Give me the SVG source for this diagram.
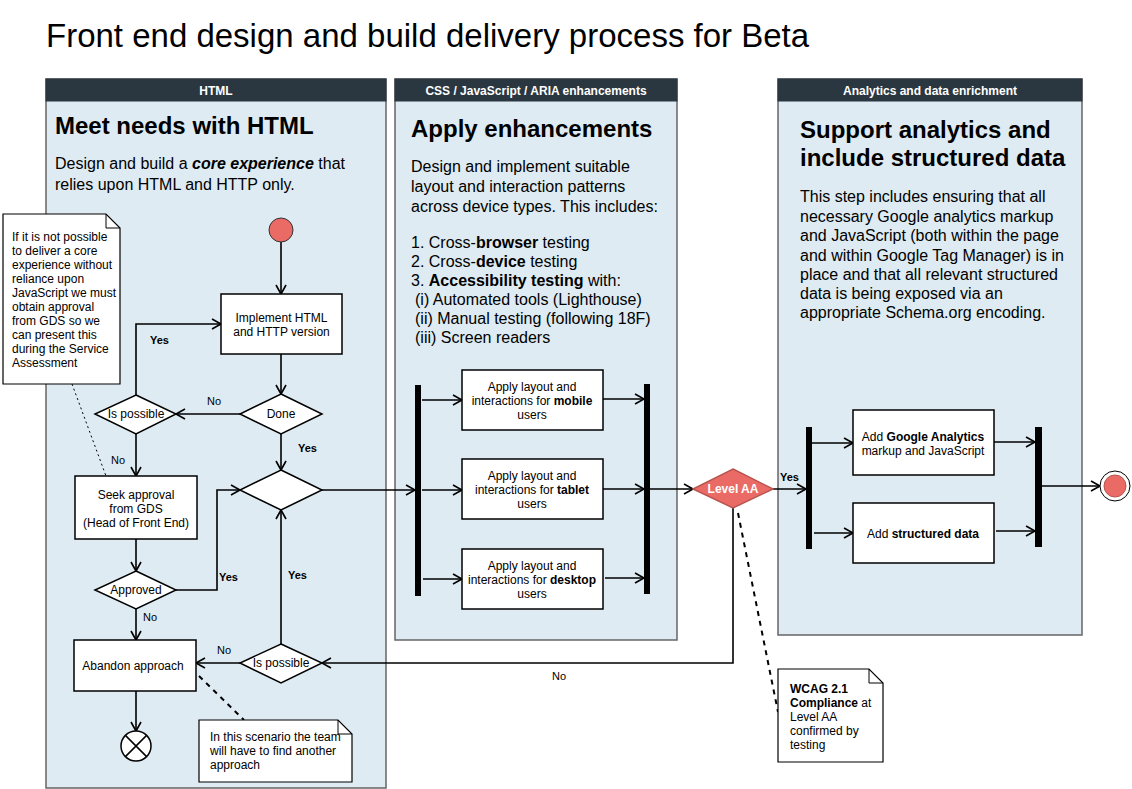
<svg xmlns="http://www.w3.org/2000/svg" width="1132" height="789" viewBox="0 0 1132 789">
<defs>
<marker id="arr" viewBox="0 0 12 12" refX="10" refY="6" markerWidth="12" markerHeight="12" markerUnits="userSpaceOnUse" orient="auto">
<path d="M1,1 L10,6 L1,11" fill="none" stroke="#000" stroke-width="1.6"/>
</marker>
<style>
text{font-family:"Liberation Sans",Arial,sans-serif;fill:#000}
.panel{fill:#deebf2;stroke:#666;stroke-width:1.5}
.hdr{fill:#2b3740;stroke:#2b3740}
.hdrt{fill:#fff;font-size:12px;font-weight:bold;text-anchor:middle}
.h1{font-size:24px;font-weight:bold}
.body{font-size:16px}
.box{fill:#fff;stroke:#000;stroke-width:1.5}
.dia{fill:#fff;stroke:#000;stroke-width:1.5}
.nt{font-size:12px;text-anchor:middle}
.note{fill:#fff;stroke:#000;stroke-width:1.2}
.ntx{font-size:12px}
.bar{fill:#000}
.c{fill:none;stroke:#000;stroke-width:1.6}
.a{marker-end:url(#arr)}
.lbl{font-size:11px;font-weight:bold}
.lbln{font-size:11px}
</style>
</defs>
<rect x="0" y="0" width="1132" height="789" fill="#fff"/>
<text x="46" y="47" style="font-size:33px">Front end design and build delivery process for Beta</text>

<g id="panel-html">
<rect class="panel" x="46" y="79" width="340" height="709"/>
<rect class="hdr" x="46" y="79" width="340" height="22"/>
<text class="hdrt" x="216" y="94.5">HTML</text>
<text class="h1" x="55" y="134">Meet needs with HTML</text>
<text class="body" x="55" y="169">Design and build a <tspan font-weight="bold" font-style="italic">core experience</tspan> that</text>
<text class="body" x="55" y="190">relies upon HTML and HTTP only.</text>
</g>

<g id="panel-css">
<rect class="panel" x="395" y="79" width="282" height="561"/>
<rect class="hdr" x="395" y="79" width="282" height="22"/>
<text class="hdrt" x="536" y="94.5">CSS / JavaScript / ARIA enhancements</text>
<text class="h1" x="411" y="137">Apply enhancements</text>
<text class="body" x="411" y="172">Design and implement suitable</text>
<text class="body" x="411" y="192">layout and interaction patterns</text>
<text class="body" x="411" y="212">across device types. This includes:</text>
<text class="body" x="411" y="248">1. Cross-<tspan font-weight="bold">browser</tspan> testing</text>
<text class="body" x="411" y="267">2. Cross-<tspan font-weight="bold">device</tspan> testing</text>
<text class="body" x="411" y="286">3. <tspan font-weight="bold">Accessibility testing</tspan> with:</text>
<text class="body" x="415" y="305">(i) Automated tools (Lighthouse)</text>
<text class="body" x="415" y="324">(ii) Manual testing (following 18F)</text>
<text class="body" x="415" y="343">(iii) Screen readers</text>
</g>

<g id="panel-analytics">
<rect class="panel" x="778" y="79" width="304" height="556"/>
<rect class="hdr" x="778" y="79" width="304" height="22"/>
<text class="hdrt" x="930" y="94.5">Analytics and data enrichment</text>
<text class="h1" x="800" y="138">Support analytics and</text>
<text class="h1" x="800" y="166">include structured data</text>
<text class="body" x="800" y="202">This step includes ensuring that all</text>
<text class="body" x="800" y="222">necessary Google analytics markup</text>
<text class="body" x="800" y="241">and JavaScript (both within the page</text>
<text class="body" x="800" y="261">and within Google Tag Manager) is in</text>
<text class="body" x="800" y="280">place and that all relevant structured</text>
<text class="body" x="800" y="299">data is being exposed via an</text>
<text class="body" x="800" y="318">appropriate Schema.org encoding.</text>
</g>

<g id="connectors">
<line class="c a" x1="281" y1="242" x2="281" y2="294"/>
<line class="c a" x1="281" y1="354" x2="281" y2="394"/>
<line class="c a" x1="240" y1="414" x2="176" y2="414"/>
<polyline class="c a" points="136,395 136,324 221,324"/>
<line class="c a" x1="136" y1="434" x2="136" y2="476"/>
<line class="c a" x1="281" y1="434" x2="281" y2="470"/>
<line class="c a" x1="136" y1="539" x2="136" y2="571"/>
<polyline class="c a" points="176,590 217,590 217,490 240,490"/>
<line class="c a" x1="136" y1="609" x2="136" y2="640"/>
<line class="c a" x1="136" y1="691" x2="136" y2="731"/>
<line class="c a" x1="240" y1="663" x2="196" y2="663"/>
<line class="c a" x1="281" y1="644" x2="281" y2="510"/>
<line class="c a" x1="322" y1="490" x2="415" y2="490"/>
<line class="c a" x1="422" y1="400" x2="462" y2="400"/>
<line class="c a" x1="422" y1="490" x2="462" y2="490"/>
<line class="c a" x1="423" y1="579" x2="462" y2="579"/>
<line class="c a" x1="603" y1="399" x2="644" y2="399"/>
<line class="c a" x1="603" y1="489" x2="644" y2="489"/>
<line class="c a" x1="605" y1="578" x2="644" y2="578"/>
<line class="c a" x1="650" y1="489" x2="693" y2="489"/>
<line class="c a" x1="773" y1="489" x2="806" y2="489"/>
<polyline class="c a" points="733,508 733,663 322,663"/>
<line class="c a" x1="812" y1="443" x2="853" y2="443"/>
<line class="c a" x1="814" y1="533" x2="853" y2="533"/>
<line class="c a" x1="994" y1="442" x2="1035" y2="442"/>
<line class="c a" x1="996" y1="531" x2="1035" y2="531"/>
<line class="c a" x1="1042" y1="486" x2="1100" y2="486"/>
<line x1="72" y1="384" x2="106" y2="476" stroke="#000" stroke-width="1" stroke-dasharray="2,3"/>
<line x1="199" y1="676" x2="244" y2="720" stroke="#000" stroke-width="2" stroke-dasharray="5,5"/>
<line x1="738" y1="513" x2="778" y2="712" stroke="#000" stroke-width="2" stroke-dasharray="5,5"/>
<text class="lbl" x="150" y="344">Yes</text>
<text class="lbln" x="207" y="405">No</text>
<text class="lbln" x="111" y="464">No</text>
<text class="lbl" x="298" y="452">Yes</text>
<text class="lbl" x="219" y="581">Yes</text>
<text class="lbln" x="143" y="621">No</text>
<text class="lbln" x="217" y="654">No</text>
<text class="lbl" x="288" y="579">Yes</text>
<text class="lbl" x="780" y="481">Yes</text>
<text class="lbln" x="552" y="680">No</text>
</g>

<g id="start"><circle cx="281" cy="230" r="12" fill="#ea6b66" stroke="#333" stroke-width="1"/></g>
<g id="implement"><rect class="box" x="221" y="294" width="121" height="60"/>
<text class="nt" x="281.5" y="322">Implement HTML</text><text class="nt" x="281.5" y="336">and HTTP version</text></g>
<g id="done"><polygon class="dia" points="281,394 322,414 281,434 240,414"/><text class="nt" x="281" y="418">Done</text></g>
<g id="ispossible1"><polygon class="dia" points="136,395 176,414 136,434 95,414"/><text class="nt" x="136" y="418">Is possible</text></g>
<g id="seek"><rect class="box" x="75" y="476" width="122" height="63"/>
<text class="nt" x="136" y="499">Seek approval</text><text class="nt" x="136" y="513">from GDS</text><text class="nt" x="136" y="527">(Head of Front End)</text></g>
<g id="merge"><polygon class="dia" points="281,470 322,490 281,510 240,490"/></g>
<g id="approved"><polygon class="dia" points="136,571 176,590 136,609 95,590"/><text class="nt" x="136" y="594">Approved</text></g>
<g id="abandon"><rect class="box" x="74" y="640" width="122" height="51"/><text class="nt" x="133" y="670">Abandon approach</text></g>
<g id="ispossible2"><polygon class="dia" points="281,644 322,663 281,683 240,663"/><text class="nt" x="281" y="667">Is possible</text></g>
<g id="end-x"><circle cx="136" cy="746" r="15" fill="#fff" stroke="#000" stroke-width="1.5"/>
<path d="M125.4,735.4 L146.6,756.6 M146.6,735.4 L125.4,756.6" stroke="#000" stroke-width="1.5"/></g>
<g id="note1"><path class="note" d="M3,214 H106 L120,228 V384 H3 Z"/><path d="M106,214 V228 H120" fill="none" stroke="#000" stroke-width="1"/>
<text class="ntx" x="12" y="241">If it is not possible</text>
<text class="ntx" x="12" y="255">to deliver a core</text>
<text class="ntx" x="12" y="269">experience without</text>
<text class="ntx" x="12" y="283">reliance upon</text>
<text class="ntx" x="12" y="297">JavaScript we must</text>
<text class="ntx" x="12" y="311">obtain approval</text>
<text class="ntx" x="12" y="325">from GDS so we</text>
<text class="ntx" x="12" y="339">can present this</text>
<text class="ntx" x="12" y="353">during the Service</text>
<text class="ntx" x="12" y="367">Assessment</text></g>
<g id="note2"><path class="note" d="M199,720 H338 L352,734 V782 H199 Z"/><path d="M338,720 V734 H352" fill="none" stroke="#000" stroke-width="1"/>
<text class="ntx" x="210" y="741">In this scenario the team</text>
<text class="ntx" x="210" y="755">will have to find another</text>
<text class="ntx" x="210" y="769">approach</text></g>

<g id="fork1"><rect class="bar" x="415" y="385" width="6" height="211"/></g>
<g id="mobile"><rect class="box" x="462" y="370" width="141" height="60"/>
<text class="nt" x="532" y="391">Apply layout and</text><text class="nt" x="532" y="405">interactions for <tspan font-weight="bold">mobile</tspan></text><text class="nt" x="532" y="419">users</text></g>
<g id="tablet"><rect class="box" x="462" y="459" width="141" height="60"/>
<text class="nt" x="532" y="480">Apply layout and</text><text class="nt" x="532" y="494">interactions for <tspan font-weight="bold">tablet</tspan></text><text class="nt" x="532" y="508">users</text></g>
<g id="desktop"><rect class="box" x="462" y="549" width="141" height="60"/>
<text class="nt" x="532" y="570">Apply layout and</text><text class="nt" x="532" y="584">interactions for <tspan font-weight="bold">desktop</tspan></text><text class="nt" x="532" y="598">users</text></g>
<g id="join1"><rect class="bar" x="644" y="384" width="6" height="210"/></g>

<g id="levelaa"><polygon points="733,469 773,489 733,508 693,489" fill="#ea6b66" stroke="#b85450" stroke-width="1.5"/>
<text class="nt" x="733" y="493" style="fill:#fff;font-weight:bold">Level AA</text></g>
<g id="note-wcag"><path class="note" d="M778,669 H869 L883,683 V762 H778 Z"/><path d="M869,669 V683 H883" fill="none" stroke="#000" stroke-width="1"/>
<text class="ntx" x="790" y="693" font-weight="bold">WCAG 2.1</text>
<text class="ntx" x="790" y="707"><tspan font-weight="bold">Compliance</tspan> at</text>
<text class="ntx" x="790" y="721">Level AA</text>
<text class="ntx" x="790" y="735">confirmed by</text>
<text class="ntx" x="790" y="749">testing</text></g>

<g id="fork2"><rect class="bar" x="806" y="427" width="6" height="122"/></g>
<g id="ga"><rect class="box" x="853" y="410" width="141" height="65"/>
<text class="nt" x="923" y="441">Add <tspan font-weight="bold">Google Analytics</tspan></text><text class="nt" x="923" y="455">markup and JavaScript</text></g>
<g id="structured"><rect class="box" x="853" y="503" width="141" height="60"/>
<text class="nt" x="923" y="538">Add <tspan font-weight="bold">structured data</tspan></text></g>
<g id="join2"><rect class="bar" x="1035" y="427" width="7" height="120"/></g>
<g id="end"><circle cx="1115" cy="486" r="15" fill="#fff" stroke="#000" stroke-width="1"/><circle cx="1115" cy="486" r="11" fill="#ea6b66" stroke="#b85450" stroke-width="1"/></g>
</svg>
